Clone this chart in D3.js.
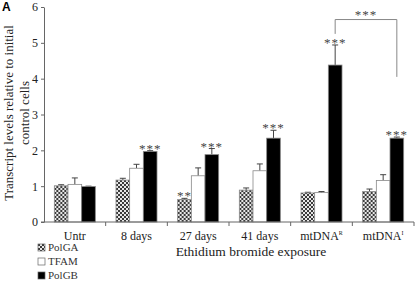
<!DOCTYPE html>
<html>
<head>
<meta charset="utf-8">
<script src="https://cdn.jsdelivr.net/npm/d3@7"></script>
<style>
  body { margin: 0; background: #fff; }
  svg text { font-family: "Liberation Serif", "Times New Roman", serif; }
</style>
</head>
<body>
<svg id="chart" width="415" height="282"></svg>
<script>
// data
const categories = ["Untr", "8 days", "27 days", "41 days", "mtDNA^R", "mtDNA^I"];
const series = ["PolGA", "TFAM", "PolGB"];
const polga    = [1.01, 1.17, 0.63, 0.89, 0.81, 0.85];
const polgaErr = [0.03, 0.05, 0.03, 0.06, 0.02, 0.07];
const tfam     = [1.05, 1.50, 1.29, 1.43, 0.82, 1.16];
const tfamErr  = [0.18, 0.11, 0.22, 0.19, 0.03, 0.16];
const polgb    = [0.99, 1.97, 1.88, 2.34, 4.38, 2.34];
const polgbErr = [0.01, 0.02, 0.17, 0.22, 0.56, 0.03];
const yTicks = [0, 1, 2, 3, 4, 5, 6];
// significance marks: [category index, series index, label]
const stars = [[1, 2, "***"], [2, 0, "**"], [2, 2, "***"], [3, 2, "***"], [4, 2, "***"], [5, 2, "***"]];
// bracket between mtDNA^R and mtDNA^I (PolGB), value levels
const bracket = {from: 4, to: 5, top: 5.65, leftEnd: 5.25, rightEnd: 4.05, label: "***"};

const values = [polga, tfam, polgb];
const errs = [polgaErr, tfamErr, polgbErr];
const data = categories.map((c, i) => ({
  cat: c,
  bars: series.map((s, j) => ({s: s, j: j, v: values[j][i], e: errs[j][i]}))
}));

const svg = d3.select("#chart");
const x0 = 44, x1 = 414, yTop = 7, yBot = 222;

const defs = svg.append("defs");
const pat = defs.append("pattern")
  .attr("id", "hatch").attr("patternUnits", "userSpaceOnUse")
  .attr("width", 4).attr("height", 4);
pat.append("rect").attr("width", 4).attr("height", 4).attr("fill", "#e8e8e8");
pat.append("rect").attr("width", 2).attr("height", 2).attr("fill", "#3a3a3a");
pat.append("rect").attr("x", 2).attr("y", 2).attr("width", 2).attr("height", 2).attr("fill", "#3a3a3a");

const fills = {PolGA: "url(#hatch)", TFAM: "#fff", PolGB: "#000"};

const x = d3.scaleBand().domain(categories).range([x0, x1])
  .paddingInner(0.335).paddingOuter(0.1675);
const xs = d3.scaleBand().domain(series).range([0, x.bandwidth()]);
const y = d3.scaleLinear().domain([0, 6]).range([yBot, yTop]);

// bars
const grp = svg.selectAll("g.grp").data(data).enter().append("g")
  .attr("class", "grp")
  .attr("transform", d => `translate(${x(d.cat)},0)`);

// error bars (top whisker only)
grp.selectAll("line.err").data(d => d.bars).enter().append("line")
  .attr("x1", d => xs(d.s) + xs.bandwidth() / 2)
  .attr("x2", d => xs(d.s) + xs.bandwidth() / 2)
  .attr("y1", d => y(d.v)).attr("y2", d => y(d.v + d.e))
  .attr("stroke", "#444").attr("stroke-width", 1);
grp.selectAll("line.cap").data(d => d.bars).enter().append("line")
  .attr("x1", d => xs(d.s) + xs.bandwidth() / 2 - 3)
  .attr("x2", d => xs(d.s) + xs.bandwidth() / 2 + 3)
  .attr("y1", d => y(d.v + d.e)).attr("y2", d => y(d.v + d.e))
  .attr("stroke", "#444").attr("stroke-width", 1);

grp.selectAll("rect").data(d => d.bars).enter().append("rect")
  .attr("x", d => xs(d.s))
  .attr("y", d => y(d.v))
  .attr("width", xs.bandwidth())
  .attr("height", d => y(0) - y(d.v))
  .attr("fill", d => fills[d.s])
  .attr("stroke", "#888").attr("stroke-width", 0.8);

// stars
stars.forEach(([ci, si, lab]) => {
  const v = values[si][ci] + errs[si][ci];
  svg.append("text")
    .attr("x", x(categories[ci]) + xs(series[si]) + xs.bandwidth() / 2)
    .attr("y", y(v) + 2)
    .attr("text-anchor", "middle")
    .style("font-size", "13px").style("letter-spacing", "1px")
    .attr("fill", "#444")
    .text(lab);
});

// bracket
const bx1 = x(categories[bracket.from]) + xs("PolGB") + xs.bandwidth() / 2;
const bx2 = x(categories[bracket.to]) + xs("PolGB") + xs.bandwidth() / 2;
svg.append("path")
  .attr("d", `M${bx1},${y(bracket.leftEnd)}V${y(bracket.top)}H${bx2}V${y(bracket.rightEnd)}`)
  .attr("fill", "none").attr("stroke", "#888").attr("stroke-width", 1);
svg.append("text")
  .attr("x", (bx1 + bx2) / 2).attr("y", y(bracket.top) - 1)
  .attr("text-anchor", "middle")
  .style("font-size", "13px").style("letter-spacing", "1px")
  .attr("fill", "#444")
  .text(bracket.label);

// y axis
const yAxis = svg.append("g").attr("transform", `translate(${x0},0)`)
  .call(d3.axisLeft(y).tickValues(yTicks).tickSize(3).tickSizeOuter(0).tickFormat(d3.format("d")));
yAxis.selectAll("text").style("font-size", "12px").attr("fill", "#222").attr("x", -6);
yAxis.selectAll("line, path").attr("stroke", "#666");

// x axis: line with ticks at group boundaries
const xAxis = svg.append("g").attr("transform", `translate(0,${yBot})`);
xAxis.append("line").attr("x1", x0 - 3).attr("x2", x1).attr("stroke", "#666");
const step = x.step();
xAxis.selectAll("line.tk").data(categories).enter().append("line")
  .attr("x1", (d, i) => x0 + step * (i + 1)).attr("x2", (d, i) => x0 + step * (i + 1))
  .attr("y1", 0).attr("y2", 4).attr("stroke", "#666");

// category labels
const lbl = svg.selectAll("text.cat").data(categories).enter().append("text")
  .attr("class", "cat")
  .attr("x", d => x(d) + x.bandwidth() / 2)
  .attr("y", 240)
  .attr("text-anchor", "middle")
  .style("font-size", "12px").attr("fill", "#222");
lbl.each(function(d) {
  const parts = d.split("^");
  const t = d3.select(this);
  t.append("tspan").text(parts[0]);
  if (parts[1]) t.append("tspan").attr("dy", -5).style("font-size", "6px").text(parts[1]);
});

svg.append("text")
  .attr("x", 251).attr("y", 256)
  .attr("text-anchor", "middle")
  .style("font-size", "13.5px").attr("fill", "#222")
  .text("Ethidium bromide exposure");

// y title
const yt = svg.append("text")
  .attr("transform", "translate(13,113) rotate(-90)")
  .attr("text-anchor", "middle")
  .style("font-size", "13px").attr("fill", "#222");
yt.append("tspan").attr("x", 0).attr("y", 0).text("Transcript levels relative to initial");
yt.append("tspan").attr("x", 0).attr("y", 16).text("control cells");

// panel letter
svg.append("text").attr("x", 2).attr("y", 11)
  .style("font-family", "Liberation Sans, Arial, sans-serif")
  .style("font-size", "12px").style("font-weight", "bold")
  .text("A");

// legend
const leg = svg.selectAll("g.leg").data(series).enter().append("g")
  .attr("class", "leg")
  .attr("transform", (d, i) => `translate(38,${244 + i * 14})`);
leg.append("rect").attr("width", 7).attr("height", 7)
  .attr("fill", d => fills[d]).attr("stroke", "#666").attr("stroke-width", 0.7);
leg.append("text").attr("x", 10).attr("y", 7)
  .style("font-size", "11px").attr("fill", "#333")
  .text(d => d);
</script>
</body>
</html>
